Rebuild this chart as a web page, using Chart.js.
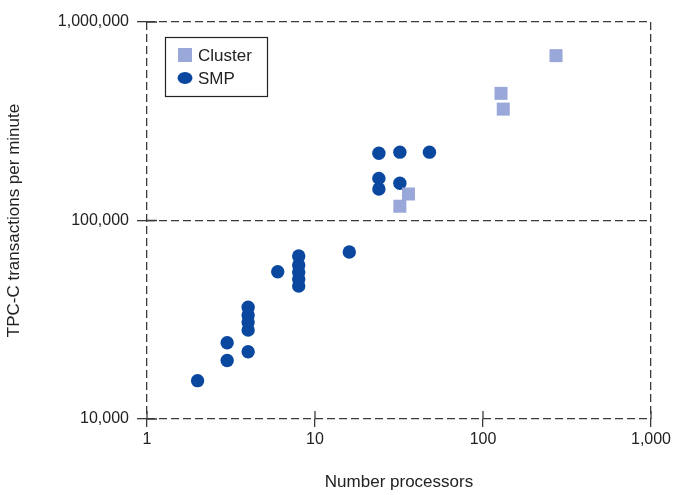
<!DOCTYPE html>
<html><head><meta charset="utf-8">
<script src="https://cdn.jsdelivr.net/npm/chart.js@4/dist/chart.umd.min.js"></script>
<style>html,body{margin:0;padding:0;background:#fff}#w{width:676px;height:495px}</style>
</head><body><div id="w"><canvas id="c" width="676" height="495"></canvas></div>
<script>
const clusterProcs = [32, 36, 128, 132, 272];
const clusterTpm   = [118000, 136000, 437000, 364000, 677000];
const smpProcs = [2, 3, 3, 4, 4, 4, 4, 4, 6, 8, 8, 8, 8, 8, 16, 24, 24, 24, 32, 32, 48];
const smpTpm   = [15600, 19700, 24200, 21800, 36600, 33400, 30800, 28100, 55200, 66200, 59700, 55000, 50800, 46800, 69400, 218000, 163000, 144000, 221000, 154000, 221000];
const xTicks = [1, 10, 100, 1000];
const yTicks = [10000, 100000, 1000000];
const seriesLabels = ['Cluster', 'SMP'];
const xTitle = 'Number processors';
const yTitle = 'TPC-C transactions per minute';

const FONT = '"Liberation Sans", Arial, sans-serif';
const dark = '#3a3a3a';

const legendBox = {
  id: 'legendBox',
  afterDraw(chart) {
    const ctx = chart.ctx;
    const x0 = 165, y0 = 37, w = 102, h = 59;
    ctx.save();
    ctx.strokeStyle = '#222';
    ctx.lineWidth = 1.2;
    ctx.strokeRect(x0 + 0.5, y0 + 0.5, w, h);
    ctx.font = '17px ' + FONT;
    ctx.textBaseline = 'middle';
    chart.data.datasets.forEach((ds, i) => {
      const cy = y0 + 18 + i * 23;
      ctx.fillStyle = ds.backgroundColor;
      if (ds.pointStyle === 'rect') {
        ctx.fillRect(x0 + 13, cy - 7, 14, 14);
      } else {
        ctx.beginPath();
        ctx.ellipse(x0 + 20, cy, 7.5, 6, 0, 0, Math.PI * 2);
        ctx.fill();
      }
      ctx.fillStyle = '#222';
      ctx.fillText(ds.label, x0 + 33, cy + 1);
    });
    ctx.restore();
  }
};

const innerTicks = {
  id: 'innerTicks',
  afterDatasetsDraw(chart) {
    const ctx = chart.ctx;
    const ys = chart.scales.y, xs = chart.scales.x;
    const a = chart.chartArea;
    ctx.save();
    ctx.strokeStyle = dark;
    ctx.lineWidth = 1.3;
    ctx.beginPath();
    ys.ticks.forEach(t => {
      const y = ys.getPixelForValue(t.value);
      ctx.moveTo(a.left, y); ctx.lineTo(a.left + 10, y);
    });
    xs.ticks.forEach(t => {
      const x = xs.getPixelForValue(t.value);
      ctx.moveTo(x, a.bottom); ctx.lineTo(x, a.bottom - 8);
    });
    ctx.stroke();
    ctx.restore();
  }
};

new Chart(document.getElementById('c'), {
  type: 'scatter',
  data: {
    datasets: [
      {
        label: seriesLabels[0],
        data: clusterProcs.map((p, i) => ({x: p, y: clusterTpm[i]})),
        pointStyle: 'rect',
        radius: 9.2,
        hoverRadius: 9.2,
        backgroundColor: '#9aa7d9',
        borderWidth: 0
      },
      {
        label: seriesLabels[1],
        data: smpProcs.map((p, i) => ({x: p, y: smpTpm[i]})),
        pointStyle: 'circle',
        radius: 6.7,
        hoverRadius: 6.7,
        backgroundColor: '#0a479e',
        borderWidth: 0
      }
    ]
  },
  options: {
    responsive: false,
    animation: false,
    events: [],
    layout: {padding: {left: 0, right: 25, top: 22, bottom: 0}},
    plugins: {legend: {display: false}, tooltip: {enabled: false}},
    scales: {
      x: {
        type: 'logarithmic',
        min: 1, max: 1000,
        afterBuildTicks: (s) => { s.ticks = xTicks.map(v => ({value: v})); },
        afterFit: (s) => { s.height = 76; },
        ticks: {
          callback: (v) => Number(v).toLocaleString('en-US'),
          color: '#222', font: {family: FONT, size: 16}, padding: 3,
          maxRotation: 0, autoSkip: false
        },
        grid: {
          color: (c) => (c.tick && (c.tick.value === 1 || c.tick.value === 1000)) ? dark : 'rgba(0,0,0,0)',
          tickColor: dark, tickLength: 8, lineWidth: 1.3, tickWidth: 1.3, tickBorderDash: []
        },
        border: {display: false, dash: [8, 4]},
        title: {display: true, text: xTitle, color: '#222', font: {family: FONT, size: 17}, padding: {top: 4, bottom: 2}}
      },
      y: {
        type: 'logarithmic',
        min: 10000, max: 1000000,
        afterBuildTicks: (s) => { s.ticks = yTicks.map(v => ({value: v})); },
        afterFit: (s) => { s.width = 147; },
        ticks: {
          callback: (v) => Number(v).toLocaleString('en-US'),
          color: '#222', font: {family: FONT, size: 16}, padding: 8, autoSkip: false
        },
        grid: {
          color: dark, tickColor: dark, tickLength: 10, lineWidth: 1.3, tickWidth: 1.3, tickBorderDash: []
        },
        border: {display: false, dash: [8, 4]},
        title: {display: true, text: yTitle, color: '#222', font: {family: FONT, size: 17}, padding: {top: 4, bottom: 4}}
      }
    }
  },
  plugins: [legendBox, innerTicks]
});
</script>
</body></html>
